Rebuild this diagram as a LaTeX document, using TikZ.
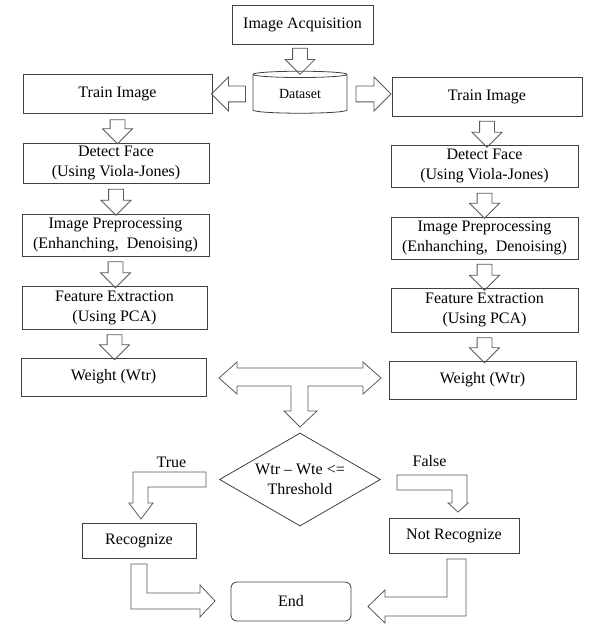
\documentclass[tikz,border=0pt]{standalone}
\usepackage{fontspec}
\setmainfont{Liberation Serif}
\usetikzlibrary{shapes.geometric, shapes.arrows}

\begin{document}
\begin{tikzpicture}[x=1pt, y=-1pt,
    box/.style={draw=black!75, line width=0.8pt, inner sep=0pt, align=center, font=\fontsize{16}{20}\selectfont},
    blk/.style={single arrow, draw=black!65, line width=0.8pt, inner sep=0pt, inner ysep=7pt,
        single arrow head extend=7.5pt, minimum height=#1, sloped, allow upside down, midway},
    wideblk/.style={blk=#1, inner ysep=7.5pt, single arrow head extend=9pt},
    bent/.style={draw=black!65, line width=0.8pt}]
    \useasboundingbox (0,0) rectangle (604,634);

    \node[box, minimum width=141pt, minimum height=39pt] (acq) at (302.5,24.5) {Image Acquisition};
    \node[cylinder, shape border rotate=90, draw=black!75, line width=0.8pt, aspect=0.15,
        minimum width=94pt, minimum height=42pt, inner sep=0pt,
        font=\fontsize{14}{16}\selectfont] (data) at (300,94) {Dataset};

    \node[box, minimum width=189pt, minimum height=39pt] (trainL) at (117.5,93.5) {Train Image};
    \node[box, minimum width=186pt, minimum height=40pt] (detectL) at (116,163) {Detect Face\\(Using Viola-Jones)};
    \node[box, minimum width=187pt, minimum height=42pt] (preL) at (115.5,235) {Image Preprocessing\\(Enhanching,\ \ Denoising)};
    \node[box, minimum width=185pt, minimum height=43pt] (featL) at (114.5,307.5) {Feature Extraction\\(Using PCA)};
    \node[box, minimum width=185pt, minimum height=38pt] (weightL) at (113.5,377) {Weight (Wtr)};

    \node[box, minimum width=190pt, minimum height=39pt] (trainR) at (487,96.5) {Train Image};
    \node[box, minimum width=187pt, minimum height=42pt] (detectR) at (484.5,166) {Detect Face\\(Using Viola-Jones)};
    \node[box, minimum width=187pt, minimum height=42pt] (preR) at (484.5,238) {Image Preprocessing\\(Enhanching,\ \ Denoising)};
    \node[box, minimum width=187pt, minimum height=44pt] (featR) at (484.5,310) {Feature Extraction\\(Using PCA)};
    \node[box, minimum width=187pt, minimum height=38pt] (weightR) at (482.5,380) {Weight (Wtr)};

    \path (data.north |- acq.south) -- (data.north) node[blk=26pt] {};
    \path (data.west) -- (data.west -| trainL.east) node[wideblk=34pt] {};
    \path (data.east) -- (data.east -| trainR.west) node[wideblk=35pt] {};

    \path (trainL.south) -- (trainL.south |- detectL.north) node[blk=24pt] {};
    \path (detectL.south) -- (detectL.south |- preL.north) node[blk=26pt] {};
    \path (preL.south) -- (preL.south |- featL.north) node[blk=26pt] {};
    \path (featL.south) -- (featL.south |- weightL.north) node[blk=25pt] {};

    \path (trainR.south) -- (trainR.south |- detectR.north) node[blk=26pt] {};
    \path (detectR.south) -- (detectR.south |- preR.north) node[blk=25pt] {};
    \path (preR.south) -- (preR.south |- featR.north) node[blk=26pt] {};
    \path (featR.south) -- (featR.south |- weightR.north) node[blk=25pt] {};

    \draw[bent] (219,378) -- (237,362) -- (237,368) -- (363,368) -- (363,362) -- (381,378) -- (363,394)
        -- (363,386) -- (308,386) -- (308,411) -- (317,411) -- (300,427) -- (284,411) -- (291,411)
        -- (291,386) -- (237,386) -- (237,394) -- cycle;

    \node[diamond, draw=black!75, line width=0.8pt, aspect=1.73, minimum width=161pt, minimum height=93pt,
        inner sep=0pt, align=center, font=\fontsize{16}{20}\selectfont] (dec) at (300,479.5) {Wtr – Wte <=\\Threshold};

    \node[font=\fontsize{16}{20}\selectfont] (true) at (171.5,462) {True};
    \node[font=\fontsize{16}{20}\selectfont] (false) at (429.5,461) {False};

    \draw[bent] (206,472) -- (133,472) -- (133,503) -- (129,503) -- (141,519) -- (153,503) -- (148,503)
        -- (148,487) -- (206,487) -- cycle;
    \draw[bent] (397,475) -- (467,475) -- (467,503) -- (468,503) -- (458,512) -- (448,503) -- (452,503)
        -- (452,490) -- (397,490) -- cycle;

    \node[box, minimum width=114pt, minimum height=35pt] (rec) at (139,540.5) {Recognize};
    \node[box, minimum width=130pt, minimum height=35pt] (notrec) at (454,535.5) {Not Recognize};
    \node[box, rounded corners=6pt, minimum width=120pt, minimum height=39pt] (end) at (291,601.5) {End};

    \draw[bent] (131,564) -- (147,564) -- (147,593) -- (200,593) -- (200,585) -- (215,601) -- (200,617)
        -- (200,609) -- (131,609) -- cycle;
    \draw[bent] (466,559) -- (466,616) -- (385,616) -- (385,623) -- (368,606.5) -- (385,590) -- (385,597)
        -- (447,597) -- (447,559) -- cycle;
\end{tikzpicture}
\end{document}
